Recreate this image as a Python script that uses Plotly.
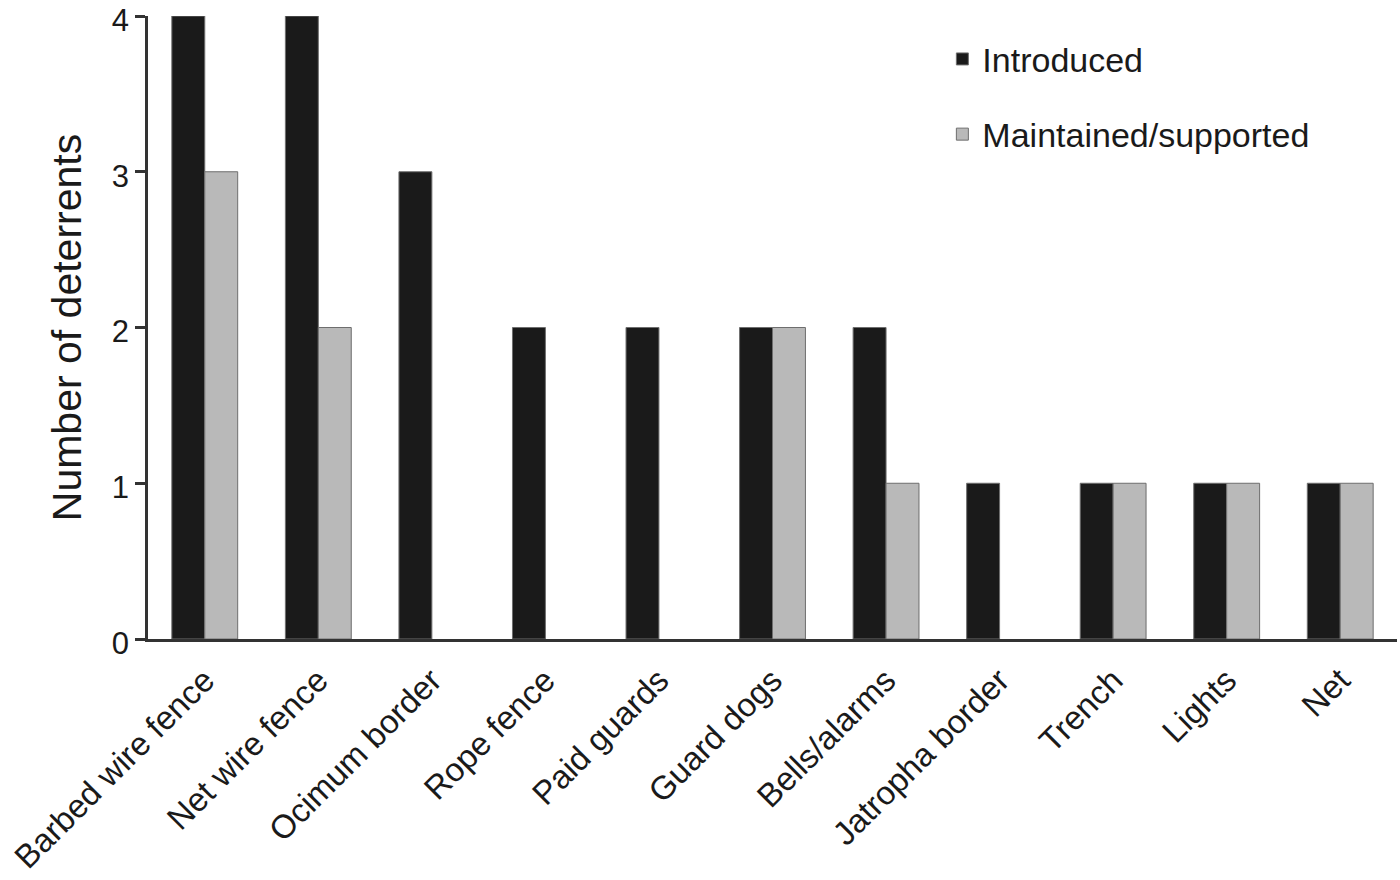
import plotly.graph_objects as go

categories = ["Barbed wire fence", "Net wire fence", "Ocimum border", "Rope fence",
              "Paid guards", "Guard dogs", "Bells/alarms", "Jatropha border",
              "Trench", "Lights", "Net"]
introduced = [4, 4, 3, 2, 2, 2, 2, 1, 1, 1, 1]
maintained = [3, 2, 0, 0, 0, 2, 1, 0, 1, 1, 1]
y_ticks = [0, 1, 2, 3, 4]

FONT = "Arial, 'Liberation Sans', Helvetica, sans-serif"

def outline_widths(values):
    return [1 if v > 0 else 0 for v in values]

fig = go.Figure()
fig.add_trace(go.Bar(
    x=categories, y=introduced, name="Introduced",
    marker=dict(color="#1a1a1a", line=dict(color="#6e6e6e", width=outline_widths(introduced))),
    legendgroup="a",
))
fig.add_trace(go.Bar(
    x=categories, y=maintained, name="Maintained/supported",
    marker=dict(color="#b9b9b9", line=dict(color="#6e6e6e", width=outline_widths(maintained))),
    legendgroup="b",
))

fig.update_layout(
    width=1400, height=880,
    margin=dict(l=148, r=3, t=16, b=241, pad=0, autoexpand=False),
    paper_bgcolor="white", plot_bgcolor="white",
    barmode="group", bargap=0.42, bargroupgap=0,
    font=dict(family=FONT, size=33, color="#1a1a1a"),
    showlegend=True,
    legend=dict(
        x=0.636, y=0.977, xanchor="left", yanchor="top",
        font=dict(size=34, family=FONT, color="#1a1a1a"),
        tracegroupgap=28, itemwidth=30,
        bgcolor="rgba(0,0,0,0)",
    ),
    xaxis=dict(
        type="category", tickangle=-45, automargin=False,
        showline=True, linecolor="#333333", linewidth=2.5,
        ticks="", showgrid=False, zeroline=False, ticklabelstandoff=6,
        tickfont=dict(size=33, family=FONT, color="#1a1a1a"),
    ),
    yaxis=dict(
        range=[0, 4.0001], tickvals=y_ticks, ticktext=[str(v) for v in y_ticks],
        automargin=False, ticklabeloverflow="allow", ticklabelshift=4,
        showline=True, linecolor="#333333", linewidth=2.5,
        ticks="outside", ticklen=10, tickwidth=2.5, tickcolor="#333333",
        showgrid=False, zeroline=False,
        tickfont=dict(size=31, family=FONT, color="#1a1a1a"),
        title=dict(text="Number of deterrents", standoff=18,
                   font=dict(size=41, family=FONT, color="#1a1a1a")),
    ),
)

fig.write_html("out.html", config={"displayModeBar": False},
               post_script="document.body.style.margin='0';")
